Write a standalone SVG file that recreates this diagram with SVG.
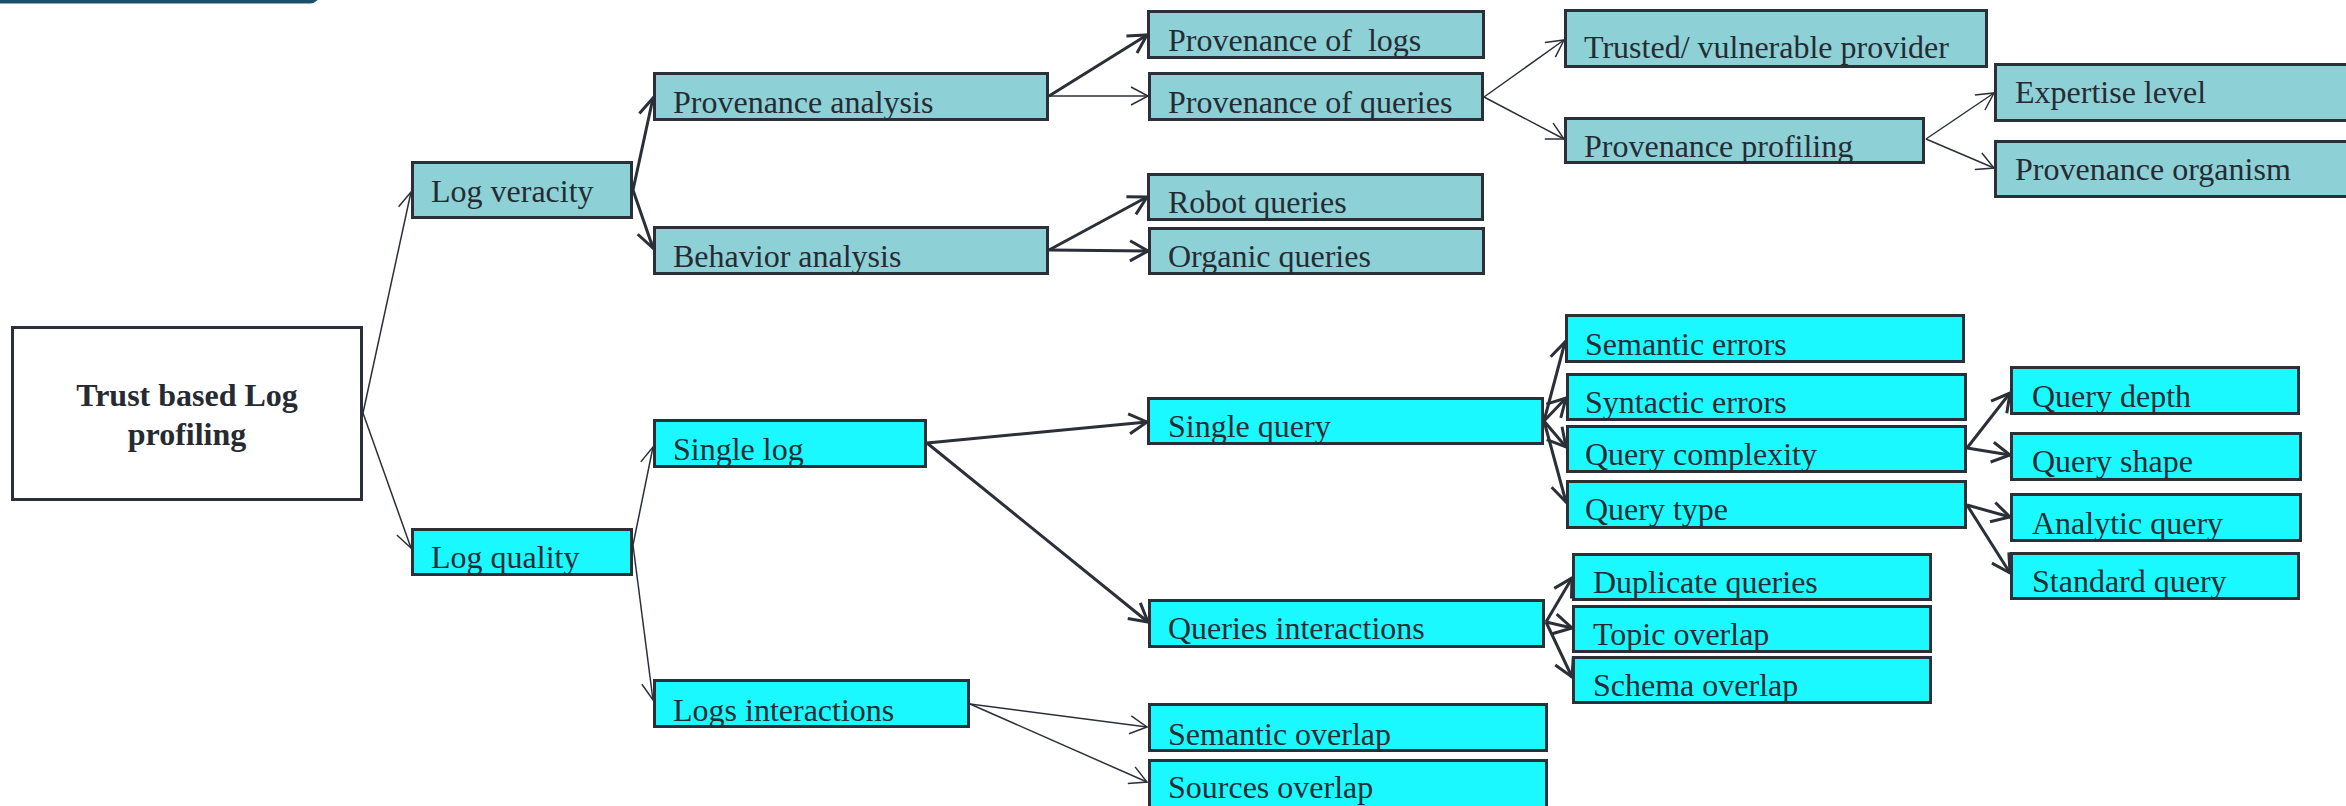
<svg xmlns="http://www.w3.org/2000/svg" width="2346" height="806" viewBox="0 0 2346 806">
<style>
.n rect{stroke:#2b3038;stroke-width:3}
.t{fill:#8dd1d6}
.c{fill:#1af9ff}
.w{fill:#ffffff}
text{font-family:"Liberation Serif","Times New Roman",serif;font-size:32px;fill:#262b33}
.b{font-weight:bold;text-anchor:middle}
.thin{stroke:#2b3038;stroke-width:1.5;fill:none;marker-end:url(#aThin)}
.thick{stroke:#2b3038;stroke-width:3;fill:none;marker-end:url(#aThick)}
</style>
<defs>
<marker id="aThin" markerUnits="userSpaceOnUse" viewBox="-20 -12 24 24" refX="0" refY="0" markerWidth="24" markerHeight="24" orient="auto">
<path d="M-17,-9 L0,0 L-17,9" fill="none" stroke="#2b3038" stroke-width="1.5"/>
</marker>
<marker id="aThick" markerUnits="userSpaceOnUse" viewBox="-22 -13 26 26" refX="0" refY="0" markerWidth="26" markerHeight="26" orient="auto">
<path d="M-18,-10 L0,0 L-18,10" fill="none" stroke="#2b3038" stroke-width="3"/>
</marker>
</defs>
<rect x="-20" y="-30" width="340" height="33.5" rx="10" fill="#1a4f6a"/>
<g id="connectors">
<line class="thin" x1="363" y1="413" x2="411" y2="192"/>
<line class="thin" x1="363" y1="413" x2="411" y2="548"/>
<line class="thick" x1="633" y1="190" x2="653" y2="98"/>
<line class="thick" x1="633" y1="190" x2="653" y2="248"/>
<line class="thick" x1="1049" y1="96" x2="1147" y2="35"/>
<line class="thin" x1="1049" y1="96" x2="1148" y2="96"/>
<line class="thick" x1="1049" y1="250" x2="1147" y2="197"/>
<line class="thick" x1="1049" y1="250" x2="1148" y2="251"/>
<line class="thin" x1="1484" y1="97" x2="1564" y2="40"/>
<line class="thin" x1="1484" y1="97" x2="1564" y2="139"/>
<line class="thin" x1="1926" y1="139" x2="1994" y2="93"/>
<line class="thin" x1="1926" y1="139" x2="1994" y2="168"/>
<line class="thin" x1="633" y1="545" x2="653" y2="447"/>
<line class="thin" x1="633" y1="545" x2="653" y2="700"/>
<line class="thick" x1="927" y1="443" x2="1147" y2="422"/>
<line class="thick" x1="927" y1="443" x2="1148" y2="622"/>
<line class="thin" x1="970" y1="704" x2="1147" y2="727"/>
<line class="thin" x1="970" y1="704" x2="1147" y2="782"/>
<line class="thick" x1="1544" y1="421" x2="1565" y2="342"/>
<line class="thick" x1="1544" y1="421" x2="1566" y2="398"/>
<line class="thick" x1="1544" y1="421" x2="1566" y2="447"/>
<line class="thick" x1="1544" y1="421" x2="1566" y2="502"/>
<line class="thick" x1="1546" y1="622" x2="1572" y2="578"/>
<line class="thick" x1="1546" y1="622" x2="1572" y2="628"/>
<line class="thick" x1="1546" y1="622" x2="1572" y2="677"/>
<line class="thick" x1="1967" y1="448" x2="2010" y2="393"/>
<line class="thick" x1="1967" y1="448" x2="2010" y2="455"/>
<line class="thick" x1="1967" y1="505" x2="2010" y2="517"/>
<line class="thick" x1="1967" y1="505" x2="2010" y2="573"/>
</g>
<g id="root" class="n"><rect class="w" x="12.5" y="327.5" width="349" height="172"/><text class="b" x="187" y="406">Trust based Log</text><text class="b" x="187" y="445">profiling</text></g>
<g id="logVeracity" class="n"><rect class="t" x="412.5" y="162.5" width="219" height="55"/><text x="431" y="202">Log veracity</text></g>
<g id="logQuality" class="n"><rect class="c" x="412.5" y="529.5" width="219" height="45"/><text x="431" y="568">Log quality</text></g>
<g id="provAnalysis" class="n"><rect class="t" x="654.5" y="73.5" width="393" height="46"/><text x="673" y="113">Provenance analysis</text></g>
<g id="behAnalysis" class="n"><rect class="t" x="654.5" y="227.5" width="393" height="46"/><text x="673" y="267">Behavior analysis</text></g>
<g id="provLogs" class="n"><rect class="t" x="1148.5" y="11.5" width="335" height="46"/><text x="1168" y="51" xml:space="preserve">Provenance of  logs</text></g>
<g id="provQueries" class="n"><rect class="t" x="1149.5" y="73.5" width="333" height="46"/><text x="1168" y="113">Provenance of queries</text></g>
<g id="robotQueries" class="n"><rect class="t" x="1148.5" y="174.5" width="334" height="45"/><text x="1168" y="213">Robot queries</text></g>
<g id="organicQueries" class="n"><rect class="t" x="1149.5" y="228.5" width="334" height="45"/><text x="1168" y="267">Organic queries</text></g>
<g id="trusted" class="n"><rect class="t" x="1565.5" y="10.5" width="421" height="56"/><text x="1584" y="58">Trusted/ vulnerable provider</text></g>
<g id="provProfiling" class="n"><rect class="t" x="1565.5" y="118.5" width="358" height="44"/><text x="1584" y="157">Provenance profiling</text></g>
<g id="expertise" class="n"><rect class="t" x="1995.5" y="64.5" width="360" height="56"/><text x="2015" y="103">Expertise level</text></g>
<g id="provOrganism" class="n"><rect class="t" x="1995.5" y="141.5" width="360" height="55"/><text x="2015" y="180">Provenance organism</text></g>
<g id="singleLog" class="n"><rect class="c" x="654.5" y="420.5" width="271" height="46"/><text x="673" y="460">Single log</text></g>
<g id="logsInteractions" class="n"><rect class="c" x="654.5" y="680.5" width="314" height="46"/><text x="673" y="721">Logs interactions</text></g>
<g id="singleQuery" class="n"><rect class="c" x="1148.5" y="398.5" width="394" height="45"/><text x="1168" y="437">Single query</text></g>
<g id="queriesInteractions" class="n"><rect class="c" x="1149.5" y="600.5" width="394" height="46"/><text x="1168" y="639">Queries interactions</text></g>
<g id="semanticOverlap" class="n"><rect class="c" x="1149.5" y="704.5" width="397" height="46"/><text x="1168" y="745">Semantic overlap</text></g>
<g id="sourcesOverlap" class="n"><rect class="c" x="1149.5" y="760.5" width="397" height="60"/><text x="1168" y="798">Sources overlap</text></g>
<g id="semanticErrors" class="n"><rect class="c" x="1566.5" y="315.5" width="397" height="46"/><text x="1585" y="355">Semantic errors</text></g>
<g id="syntacticErrors" class="n"><rect class="c" x="1567.5" y="374.5" width="398" height="45"/><text x="1585" y="413">Syntactic errors</text></g>
<g id="queryComplexity" class="n"><rect class="c" x="1567.5" y="426.5" width="398" height="45"/><text x="1585" y="465">Query complexity</text></g>
<g id="queryType" class="n"><rect class="c" x="1567.5" y="481.5" width="398" height="46"/><text x="1585" y="520">Query type</text></g>
<g id="queryDepth" class="n"><rect class="c" x="2011.5" y="367.5" width="287" height="46"/><text x="2032" y="407">Query depth</text></g>
<g id="queryShape" class="n"><rect class="c" x="2011.5" y="433.5" width="289" height="46"/><text x="2032" y="472">Query shape</text></g>
<g id="analyticQuery" class="n"><rect class="c" x="2011.5" y="494.5" width="289" height="46"/><text x="2032" y="534">Analytic query</text></g>
<g id="standardQuery" class="n"><rect class="c" x="2011.5" y="553.5" width="287" height="45"/><text x="2032" y="592">Standard query</text></g>
<g id="duplicateQueries" class="n"><rect class="c" x="1573.5" y="554.5" width="357" height="45"/><text x="1593" y="593">Duplicate queries</text></g>
<g id="topicOverlap" class="n"><rect class="c" x="1573.5" y="606.5" width="357" height="45"/><text x="1593" y="645">Topic overlap</text></g>
<g id="schemaOverlap" class="n"><rect class="c" x="1573.5" y="657.5" width="357" height="45"/><text x="1593" y="696">Schema overlap</text></g>
</svg>
